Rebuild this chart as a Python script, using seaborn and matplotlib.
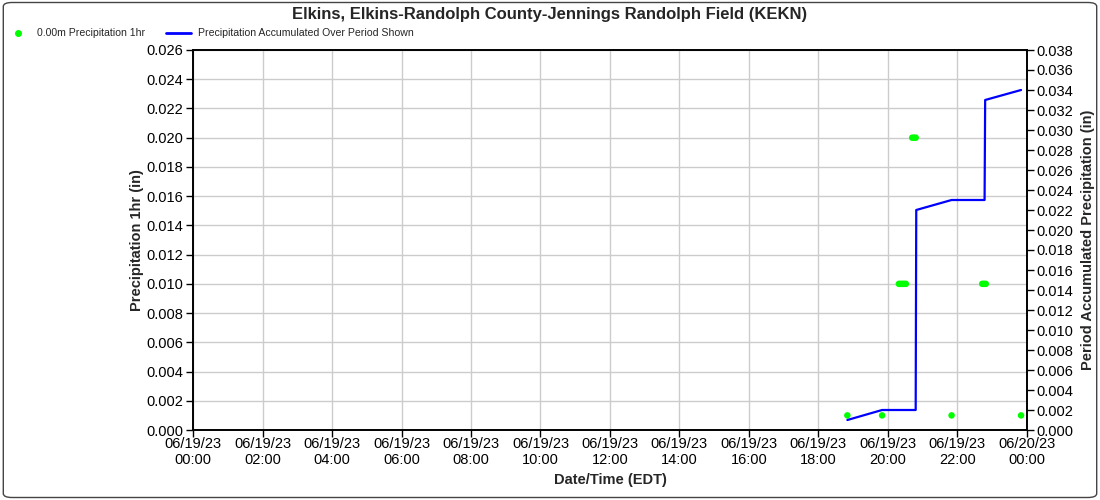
import pandas as pd
import seaborn as sns
import matplotlib
matplotlib.use("Agg")
import matplotlib.pyplot as plt
import matplotlib.dates as mdates
from matplotlib.patches import FancyBboxPatch
from matplotlib.lines import Line2D


# data (06/19/23, EDT)
precip_times = ["18:50", "19:50", "20:19", "20:22", "20:25", "20:28", "20:31",
                "20:42", "20:45", "20:48", "21:50", "22:43", "22:46", "22:49", "23:50"]
precip_1hr = [0.001, 0.001, 0.010, 0.010, 0.010, 0.010, 0.010,
              0.020, 0.020, 0.020, 0.001, 0.010, 0.010, 0.010, 0.001]

accum_times = ["18:50", "19:50", "20:48", "20:49", "21:50", "22:47", "22:48", "23:50"]
accum_precip = [0.001, 0.002, 0.002, 0.022, 0.023, 0.023, 0.033, 0.034]

title = "Elkins, Elkins-Randolph County-Jennings Randolph Field (KEKN)"
day = "2023-06-19 "

pts = pd.DataFrame({"time": pd.to_datetime([day + t for t in precip_times]),
                    "value": precip_1hr})
acc = pd.DataFrame({"time": pd.to_datetime([day + t for t in accum_times]),
                    "value": accum_precip})

sns.set_style("white")
plt.rcParams["font.family"] = ["Liberation Sans", "DejaVu Sans"]

fig = plt.figure(figsize=(11, 5), dpi=100)
ax = fig.add_axes([0.1755, 0.14, 0.758, 0.76])
ax2 = ax.twinx()

sns.scatterplot(data=pts, x="time", y="value", ax=ax, color="#00ff00",
                s=22, edgecolor="none", zorder=3, legend=False)
sns.lineplot(data=acc, x="time", y="value", ax=ax2, color="#0000ff",
             linewidth=1.6, estimator=None, legend=False)

# left axis
ax.set_ylim(0, 0.026)
ax.set_yticks([i * 0.002 for i in range(14)])
ax.yaxis.set_major_formatter(plt.FormatStrFormatter("%.3f"))
ax.set_ylabel("Precipitation 1hr (in)", fontsize=10.5, fontweight="bold", labelpad=2)

# right axis
ax2.set_ylim(0, 0.038)
ax2.set_yticks([i * 0.002 for i in range(20)])
ax2.yaxis.set_major_formatter(plt.FormatStrFormatter("%.3f"))
ax2.set_ylabel("Period Accumulated Precipitation (in)", fontsize=10.5,
               fontweight="bold", labelpad=5)

# time axis
ax.set_xlim(pd.Timestamp("2023-06-19 00:00"), pd.Timestamp("2023-06-20 00:00"))
ax.xaxis.set_major_locator(mdates.HourLocator(byhour=range(0, 24, 2)))
ax.xaxis.set_major_formatter(mdates.DateFormatter("%m/%d/%y\n%H:%M"))
ax.set_xlabel("Date/Time (EDT)", fontsize=10.5, fontweight="bold", labelpad=4)

ax.grid(True, color="#cccccc", linewidth=1)
for a in (ax, ax2):
    a.tick_params(direction="out", length=5, width=1, labelsize=10.5, color="black",
                  labelcolor="black", pad=2)
    for s in a.spines.values():
        s.set_color("black")
        s.set_linewidth(1.2)
ax.tick_params(axis="both", which="both", left=True, bottom=True)
ax.tick_params(axis="x", pad=0)
ax2.tick_params(right=True)

fig.text(0.5, 0.971, title, ha="center", va="center", fontsize=12, fontweight="bold")

handles = [Line2D([], [], marker="o", linestyle="none", color="#00ff00", markersize=4),
           Line2D([], [], color="#0000ff", linewidth=2)]
fig.legend(handles, ["0.00m Precipitation 1hr", "Precipitation Accumulated Over Period Shown"],
           loc="upper left", bbox_to_anchor=(-0.004, 0.962), ncol=2, frameon=False,
           fontsize=7.6, handlelength=2.4, columnspacing=2.0, handletextpad=0.6)

border = FancyBboxPatch((0.003, 0.005), 0.994, 0.99, boxstyle="round,pad=0,rounding_size=0.008",
                        transform=fig.transFigure, facecolor="none", edgecolor="#444444",
                        linewidth=1)
fig.patches.append(border)

fig.savefig("out.png", dpi=100)
